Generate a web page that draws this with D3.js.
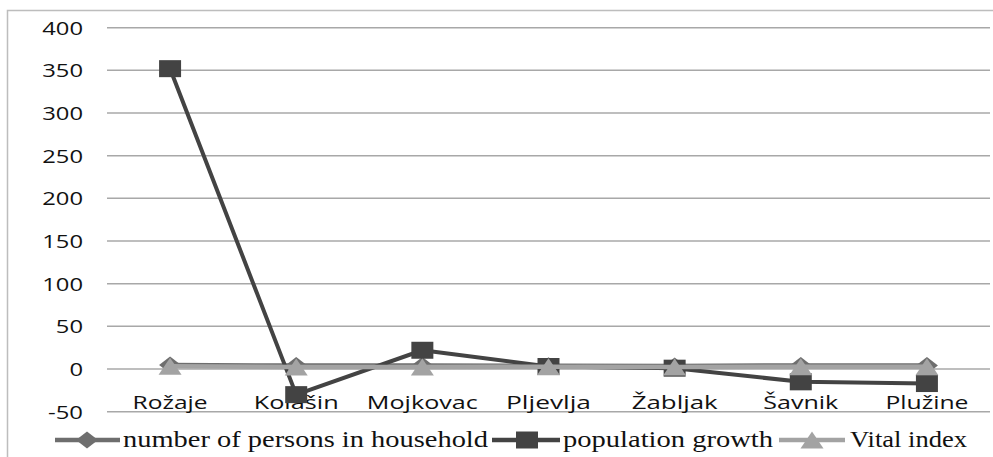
<!DOCTYPE html>
<html>
<head>
<meta charset="utf-8">
<script src="https://cdn.jsdelivr.net/npm/d3@7"></script>
<style>
  html, body { margin: 0; padding: 0; background: #fff; }
  svg { display: block; }
</style>
</head>
<body>
<svg id="chart" width="993" height="457"></svg>
<script>
// Municipalities along the category axis
const categories = ["Rožaje", "Kolašin", "Mojkovac", "Pljevlja", "Žabljak", "Šavnik", "Plužine"];

// Series values per municipality
const householdSize   = [4.6, 4.0, 4.1, 3.8, 3.6, 4.2, 4.2];
const populationGrowth = [352, -30, 22, 3, 1, -15, -17];
const vitalIndex      = [3.2, 2.4, 2.5, 2.6, 2.4, 2.6, 2.6];

// Value axis ticks
const yTicks = [-50, 0, 50, 100, 150, 200, 250, 300, 350, 400];

const seriesNames = ["number of persons in household", "population growth", "Vital index"];

const svg = d3.select("#chart");

// Outer frame
svg.append("rect")
  .attr("x", 7.5).attr("y", 10.5)
  .attr("width", 1000).attr("height", 500)
  .attr("fill", "none").attr("stroke", "#bdbdbd").attr("stroke-width", 1.5);

const plot = { left: 107, right: 990, top: 27.7, bottom: 411.7 };

const x = d3.scaleBand().domain(categories).range([plot.left, plot.right]);
const y = d3.scaleLinear().domain([-50, 400]).range([plot.bottom, plot.top]);
const cx = c => x(c) + x.bandwidth() / 2;

// Horizontal gridlines
svg.append("g")
  .selectAll("line").data(yTicks).join("line")
  .attr("x1", plot.left).attr("x2", plot.right)
  .attr("y1", d => y(d)).attr("y2", d => y(d))
  .attr("stroke", "#a8a8a8").attr("stroke-width", 1.5);

// Value axis labels
const yAxis = d3.axisLeft(y).tickValues(yTicks).tickSize(0).tickPadding(0)
  .tickFormat(d => String(d));
const gy = svg.append("g").attr("transform", `translate(83,0)`).call(yAxis);
gy.select(".domain").remove();
gy.selectAll("text")
  .attr("font-family", "'Open Sans', sans-serif")
  .attr("font-size", 18)
  .attr("fill", "#111")
  .attr("dy", "0.36em")
  .each(function(d) {
    const s = String(d);
    const w = s.startsWith("-") ? 35 : s.length * 13.6;
    d3.select(this).attr("textLength", w).attr("lengthAdjust", "spacingAndGlyphs");
  });

// Category labels
const catWidths = { "Rožaje": 75, "Kolašin": 85, "Mojkovac": 111, "Pljevlja": 85, "Žabljak": 86, "Šavnik": 75, "Plužine": 83 };
svg.append("g")
  .selectAll("text").data(categories).join("text")
  .attr("x", d => cx(d)).attr("y", 408.5)
  .attr("text-anchor", "middle")
  .attr("font-family", "'Open Sans', sans-serif")
  .attr("font-size", 17.5)
  .attr("fill", "#111")
  .attr("textLength", d => catWidths[d])
  .attr("lengthAdjust", "spacingAndGlyphs")
  .text(d => d);

const line = d3.line().x((d, i) => cx(categories[i])).y(d => y(d));

// Marker shapes (stretched a little wider than tall)
const diamondPath = (w, h) => `M0,${-h/2}L${w/2},0L0,${h/2}L${-w/2},0Z`;
const squarePath = (w, h) => `M${-w/2},${-h/2}H${w/2}V${h/2}H${-w/2}Z`;
const trianglePath = (w, h) => `M0,${-h/2}L${w/2},${h/2}L${-w/2},${h/2}Z`;

const series = [
  { name: seriesNames[0], values: householdSize, color: "#6e6e6e", width: 4.5, marker: diamondPath(22, 17) },
  { name: seriesNames[1], values: populationGrowth, color: "#434343", width: 4, marker: squarePath(22, 17) },
  { name: seriesNames[2], values: vitalIndex, color: "#a3a3a3", width: 4.5, marker: trianglePath(23, 17) }
];

series.forEach(s => {
  const g = svg.append("g");
  g.append("path")
    .attr("d", line(s.values))
    .attr("fill", "none").attr("stroke", s.color)
    .attr("stroke-width", s.width).attr("stroke-linejoin", "round");
  g.selectAll("path.m").data(s.values).join("path")
    .attr("class", "m")
    .attr("transform", (d, i) => `translate(${cx(categories[i])},${y(d)})`)
    .attr("d", s.marker)
    .attr("fill", s.color);
});

// Legend
const legendY = 440;
const legendItems = [
  { s: series[0], x1: 55, x2: 120, mx: 87, tx: 123, tw: 365 },
  { s: series[1], x1: 492, x2: 560, mx: 527, tx: 563, tw: 210 },
  { s: series[2], x1: 779, x2: 845, mx: 812, tx: 850, tw: 117 }
];
const lg = svg.append("g");
legendItems.forEach(it => {
  lg.append("line")
    .attr("x1", it.x1).attr("x2", it.x2)
    .attr("y1", legendY).attr("y2", legendY)
    .attr("stroke", it.s.color).attr("stroke-width", 4.5);
  lg.append("path")
    .attr("transform", `translate(${it.mx},${legendY})`)
    .attr("d", it.s.marker)
    .attr("fill", it.s.color);
  lg.append("text")
    .attr("x", it.tx).attr("y", legendY + 6.5)
    .attr("font-family", "'Liberation Serif', 'Times New Roman', serif")
    .attr("font-size", 23)
    .attr("fill", "#111")
    .attr("textLength", it.tw)
    .attr("lengthAdjust", "spacingAndGlyphs")
    .text(it.s.name);
});
</script>
</body>
</html>
